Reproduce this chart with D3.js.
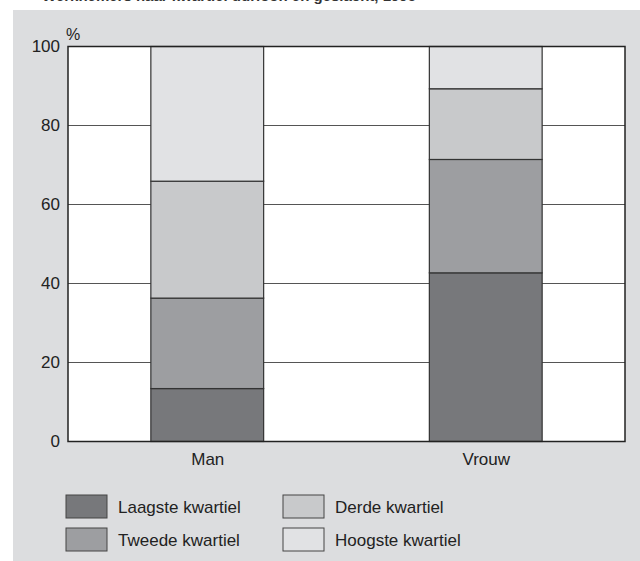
<!DOCTYPE html>
<html>
<head>
<meta charset="utf-8">
<script src="https://cdn.jsdelivr.net/npm/d3@7"></script>
<style>
  body { margin: 0; background: #fff; }
  svg { display: block; font-family: "Liberation Sans", Arial, sans-serif; }
</style>
</head>
<body>
<div id="chart"></div>
<script>
// data
var groups = ["Man", "Vrouw"];
var kwartielen = ["Laagste kwartiel", "Tweede kwartiel", "Derde kwartiel", "Hoogste kwartiel"];
var laagste = [13.4, 42.7];
var tweede  = [22.9, 28.7];
var derde   = [29.6, 17.9];
var hoogste = [34.1, 10.7];
var yTicks = [0, 20, 40, 60, 80, 100];
var colors = ["#77787b", "#9d9ea1", "#c8c9cb", "#e1e2e4"];

var W = 640, H = 561;
var margin = {top: 46.5, right: 15, bottom: 119.5, left: 68};

var svg = d3.select("#chart").append("svg")
    .attr("width", W)
    .attr("height", H);

// grey panel under the white strip
svg.append("rect")
    .attr("x", 13).attr("y", 10)
    .attr("width", W - 13).attr("height", H - 10)
    .attr("fill", "#dcdddf");

// title, cut off at the top edge as in the source
svg.append("text")
    .attr("x", 42).attr("y", 0.5)
    .style("font-size", "15px")
    .style("font-weight", "bold")
    .attr("fill", "#333")
    .text("Werknemers naar kwartiel uurloon en geslacht, 1995");

var x = d3.scalePoint().domain(groups)
    .range([margin.left, W - margin.right]).padding(0.5);
var barW = x.step() * 0.405;
var y = d3.scaleLinear().domain([0, 100])
    .range([H - margin.bottom, margin.top]);

// plot background
svg.append("rect")
    .attr("x", margin.left).attr("y", margin.top)
    .attr("width", W - margin.right - margin.left)
    .attr("height", y(0) - y(100))
    .attr("fill", "#fff");

// gridlines
svg.append("g")
    .selectAll("line")
    .data(yTicks.filter(function(d) { return d > 0 && d < 100; }))
    .enter().append("line")
      .attr("x1", margin.left).attr("x2", W - margin.right)
      .attr("y1", function(d) { return y(d); })
      .attr("y2", function(d) { return y(d); })
      .attr("stroke", "#555").attr("stroke-width", 1);

// stack
var table = groups.map(function(g, i) {
  return {group: g, k0: laagste[i], k1: tweede[i], k2: derde[i], k3: hoogste[i]};
});
var stack = d3.stack().keys(["k0", "k1", "k2", "k3"])(table);

svg.append("g")
  .selectAll("g")
  .data(stack)
  .enter().append("g")
    .attr("fill", function(d, i) { return colors[i]; })
  .selectAll("rect")
  .data(function(d) { return d; })
  .enter().append("rect")
    .attr("x", function(d) { return x(d.data.group) - barW / 2; })
    .attr("y", function(d) { return y(Math.min(d[1], 100)); })
    .attr("width", barW)
    .attr("height", function(d) { return y(d[0]) - y(Math.min(d[1], 100)); })
    .attr("stroke", "#333")
    .attr("stroke-width", 1.2);

// frame
svg.append("rect")
    .attr("x", margin.left).attr("y", margin.top)
    .attr("width", W - margin.right - margin.left)
    .attr("height", y(0) - y(100))
    .attr("fill", "none")
    .attr("stroke", "#222").attr("stroke-width", 1.5);

// y axis labels
var axisLeft = d3.axisLeft(y).tickValues(yTicks).tickSize(0).tickPadding(8);
svg.append("g")
    .attr("transform", "translate(" + margin.left + ",0)")
    .call(axisLeft)
    .call(function(g) { g.select(".domain").remove(); })
    .selectAll("text")
      .style("font-size", "17px")
      .style("font-family", "Liberation Sans, Arial, sans-serif")
      .attr("fill", "#222");

svg.append("text")
    .attr("x", margin.left - 2).attr("y", 40)
    .style("font-size", "16px")
    .attr("fill", "#222")
    .text("%");

// x axis labels
var axisBottom = d3.axisBottom(x).tickSize(0).tickPadding(11);
svg.append("g")
    .attr("transform", "translate(0," + y(0) + ")")
    .call(axisBottom)
    .call(function(g) { g.select(".domain").remove(); })
    .selectAll("text")
      .style("font-size", "17px")
      .style("font-family", "Liberation Sans, Arial, sans-serif")
      .attr("fill", "#222");

// legend
var legend = svg.append("g");
var items = legend.selectAll("g")
    .data(kwartielen)
    .enter().append("g")
      .attr("transform", function(d, i) {
        var col = Math.floor(i / 2), row = i % 2;
        return "translate(" + (66 + col * 217) + "," + (495 + row * 33) + ")";
      });
items.append("rect")
    .attr("width", 41).attr("height", 23)
    .attr("fill", function(d, i) { return colors[i]; })
    .attr("stroke", "#444").attr("stroke-width", 1);
items.append("text")
    .attr("x", 52).attr("y", 18)
    .style("font-size", "17px")
    .attr("fill", "#222")
    .text(function(d) { return d; });
</script>
</body>
</html>
